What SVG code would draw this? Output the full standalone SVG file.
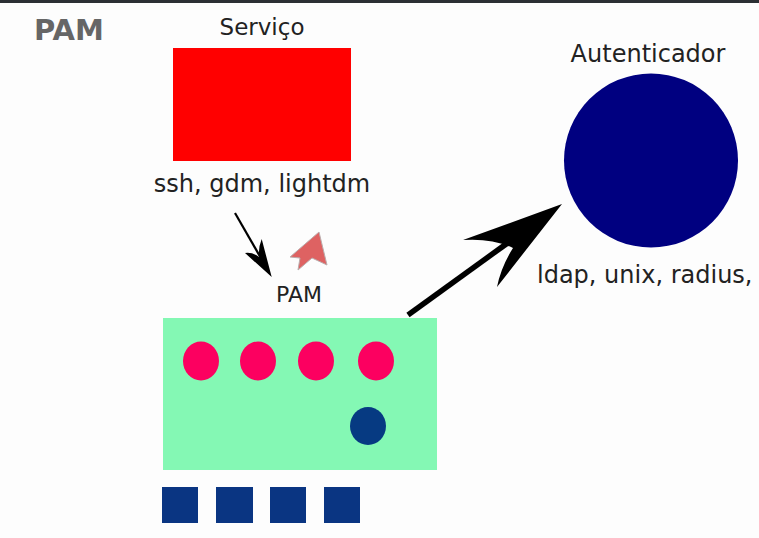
<svg xmlns="http://www.w3.org/2000/svg" width="759" height="538" viewBox="0 0 759 538">
<style>
text{font-family:"DejaVu Sans",sans-serif;fill:#222}
.lbl{font-size:24px}
.pin{fill:#fc0060}
.blk{fill:#0a3582}
</style>
<rect width="759" height="538" fill="#fdfdfd"/>
<rect width="759" height="3" fill="#2b2f34"/>
<text x="34" y="40" style="font-size:29px;font-weight:bold;fill:#666">PAM</text>
<g id="servico">
<text class="lbl" x="262" y="35" text-anchor="middle" style="font-size:23px">Serviço</text>
<rect x="173" y="48" width="178" height="113" fill="#ff0000"/>
<text class="lbl" x="262" y="192" text-anchor="middle">ssh, gdm, lightdm</text>
</g>
<g id="autenticador">
<text class="lbl" x="648" y="62" text-anchor="middle">Autenticador</text>
<circle cx="651" cy="160.5" r="87" fill="#000080"/>
<text class="lbl" x="537" y="283">ldap, unix, radius,</text>
</g>
<g id="pam">
<text class="lbl" x="299" y="302" text-anchor="middle" style="font-size:22px">PAM</text>
<rect x="163" y="318" width="274" height="152" fill="#84f8b4"/>
<ellipse class="pin" cx="201" cy="361" rx="18" ry="19.5"/>
<ellipse class="pin" cx="258" cy="361" rx="18" ry="19.5"/>
<ellipse class="pin" cx="316" cy="361" rx="18" ry="19.5"/>
<ellipse class="pin" cx="376" cy="361" rx="18" ry="19.5"/>
<ellipse cx="368" cy="426" rx="18" ry="19" fill="#063a82"/>
</g>
<g id="modules">
<rect class="blk" x="162" y="487" width="36" height="36"/>
<rect class="blk" x="216" y="487" width="37" height="36"/>
<rect class="blk" x="270" y="487" width="36" height="36"/>
<rect class="blk" x="324" y="487" width="36" height="36"/>
</g>
<g id="connectors">
<line x1="235" y1="213" x2="262" y2="260" stroke="#000" stroke-width="2.2"/>
<path d="M271.7,277 L245,253 Q253,252 259,257 Q258,248 261.7,239 Z" fill="#000"/>
<line x1="408" y1="315" x2="520" y2="234" stroke="#000" stroke-width="5.5"/>
<path d="M562,204 L463,240 Q492,238 513,248 Q501,267 497,287 Z" fill="#000"/>
</g>
<path d="M319,232 L290,257 L300,258 L298,270 L312,258 L327,265 Z" fill="#d94848" opacity="0.85" stroke="#b0a0a0" stroke-width="1"/>
</svg>
